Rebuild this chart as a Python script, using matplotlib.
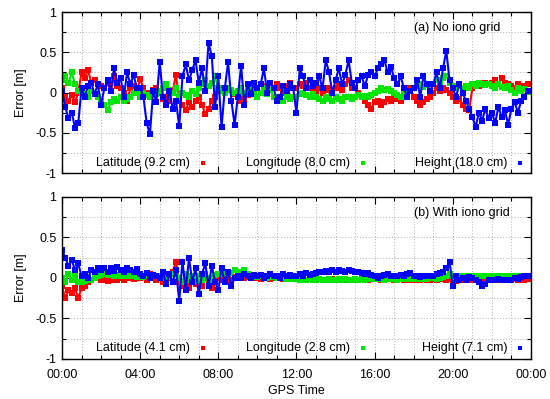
import numpy as np
import matplotlib
matplotlib.use("Agg")
import matplotlib.pyplot as plt
from matplotlib.ticker import MultipleLocator

plt.rcParams['font.family'] = ['Liberation Sans', 'DejaVu Sans']
plt.rcParams['font.size'] = 9

# sampling: every 10 minutes, hours 0..24
hours = np.arange(0, 24, 1 / 6)

# (a) No iono grid -- one row per hour, 6 samples each
lat_a = [
    0.05, -0.05, -0.10, -0.03, -0.12, 0.00,
    0.25, 0.18, 0.28, 0.12, 0.15, 0.10,
    0.08, 0.05, 0.12, 0.02, 0.20, 0.08,
    0.05, 0.00, -0.10, 0.05, 0.08, 0.02,
    0.17, 0.05, 0.00, -0.05, 0.03, 0.05,
    0.00, -0.08, -0.05, -0.10, 0.02, 0.22,
    -0.10, -0.15, -0.22, -0.12, -0.18, -0.10,
    -0.05, -0.15, -0.27, -0.20, -0.10, -0.05,
    0.02, 0.05, 0.00, 0.05, 0.03, -0.02,
    -0.05, -0.10, -0.08, -0.03, 0.00, 0.05,
    0.05, 0.10, 0.08, 0.05, 0.12, 0.06,
    0.10, 0.05, 0.00, 0.08, 0.12, 0.05,
    0.05, 0.10, 0.08, 0.12, 0.05, 0.08,
    0.02, 0.05, 0.00, 0.03, 0.06, 0.02,
    0.05, 0.08, 0.03, 0.10, 0.15, 0.05,
    0.05, 0.00, -0.05, -0.10, -0.15, -0.20,
    -0.12, -0.10, -0.15, -0.12, -0.08, -0.10,
    -0.05, -0.08, -0.10, -0.02, 0.02, 0.05,
    -0.05, -0.10, -0.15, -0.12, -0.08, -0.05,
    0.00, 0.05, 0.02, 0.05, 0.03, 0.00,
    -0.05, -0.10, -0.08, -0.15, -0.20, -0.22,
    0.05, 0.10, 0.08, 0.10, 0.12, 0.10,
    0.12, 0.15, 0.10, 0.18, 0.12, 0.10,
    0.08, 0.05, 0.10, 0.06, 0.08, 0.10,
]
lon_a = [
    0.15, 0.20, 0.12, 0.25, 0.10, 0.02,
    0.00, -0.03, -0.05, 0.02, -0.02, -0.05,
    -0.10, -0.15, -0.22, -0.12, -0.08, -0.10,
    -0.05, -0.10, -0.08, -0.05, 0.00, 0.03,
    -0.05, 0.00, -0.03, -0.05, 0.00, -0.02,
    0.02, 0.05, 0.10, 0.03, 0.00, 0.05,
    -0.05, 0.00, -0.03, -0.05, 0.02, -0.02,
    0.05, 0.10, 0.15, 0.08, 0.12, 0.20,
    0.05, 0.02, 0.00, 0.05, 0.03, 0.00,
    0.02, 0.05, 0.00, 0.03, 0.05, 0.02,
    -0.05, 0.00, 0.05, -0.02, 0.03, -0.05,
    -0.05, -0.08, -0.10, -0.05, -0.08, -0.06,
    -0.05, -0.02, 0.00, -0.03, -0.05, -0.02,
    -0.05, -0.08, -0.10, -0.06, -0.08, -0.10,
    -0.05, -0.08, -0.10, -0.06, -0.05, -0.08,
    -0.05, -0.03, -0.06, -0.04, -0.05, -0.03,
    0.00, 0.02, 0.05, 0.03, 0.04, 0.02,
    0.00, -0.03, -0.05, -0.02, 0.00, 0.02,
    0.05, 0.08, 0.10, 0.07, 0.09, 0.10,
    0.10, 0.15, 0.12, 0.18, 0.20, 0.12,
    0.08, 0.05, 0.10, 0.06, 0.08, 0.05,
    0.10, 0.08, 0.12, 0.10, 0.09, 0.11,
    0.08, 0.05, 0.10, 0.07, 0.06, 0.08,
    0.03, 0.00, 0.05, 0.02, 0.04, 0.01,
]
hgt_a = [
    0.02, -0.18, -0.32, -0.25, -0.44, -0.38,
    0.05, -0.05, 0.08, 0.12, -0.02, 0.10,
    -0.15, 0.05, 0.15, 0.02, 0.30, 0.12,
    0.18, -0.05, 0.25, 0.10, 0.22, 0.05,
    0.05, -0.05, -0.38, -0.52, 0.02, -0.12,
    0.38, -0.05, -0.15, 0.02, -0.20, -0.10,
    -0.42, 0.20, 0.35, 0.15, 0.28, 0.40,
    0.12, 0.30, 0.02, 0.62, 0.45, -0.18,
    0.20, -0.43, 0.05, 0.38, -0.10, -0.40,
    -0.05, 0.33, -0.15, 0.10, -0.02, 0.12,
    0.05, 0.10, 0.30, 0.00, 0.12, 0.05,
    -0.10, -0.05, 0.08, 0.02, 0.10, 0.05,
    -0.25, 0.30, 0.20, 0.05, 0.15, 0.08,
    0.12, 0.20, 0.05, 0.40, 0.25, 0.00,
    0.15, 0.30, 0.10, 0.22, 0.40, 0.12,
    0.05, 0.15, 0.20, 0.08, 0.22, 0.25,
    0.20, 0.30, 0.35, 0.40, 0.25, 0.32,
    0.18, 0.10, 0.20, 0.05, -0.05, 0.02,
    0.05, 0.15, -0.05, 0.20, 0.10, 0.02,
    0.10, 0.25, 0.05, 0.30, 0.52, 0.15,
    0.05, -0.05, 0.10, 0.00, -0.10, -0.20,
    -0.30, -0.43, -0.25, -0.35, -0.20, -0.32,
    -0.25, -0.38, -0.18, -0.30, -0.22, -0.40,
    -0.20, -0.12, -0.25, -0.10, -0.05, 0.02,
]

# (b) With iono grid
lat_b = [
    -0.10, -0.25, -0.15, -0.18, -0.12, -0.25,
    -0.12, -0.10, -0.05, -0.02, 0.02, 0.00,
    -0.03, -0.02, -0.04, -0.03, -0.02, -0.03,
    0.00, -0.02, 0.01, 0.00, -0.01, 0.02,
    0.00, 0.03, -0.02, 0.05, 0.02, -0.03,
    0.03, -0.05, 0.05, 0.00, 0.08, 0.20,
    -0.05, -0.10, 0.05, -0.12, -0.03, -0.08,
    -0.05, -0.10, 0.00, -0.06, -0.12, -0.02,
    0.00, -0.03, 0.02, 0.00, -0.02, 0.01,
    0.00, 0.02, 0.00, 0.01, 0.00, 0.02,
    0.00, -0.01, 0.01, 0.00, -0.01, 0.00,
    0.00, 0.01, -0.01, 0.00, 0.01, 0.00,
    0.00, -0.01, 0.01, -0.02, -0.01, 0.00,
    -0.02, -0.01, -0.02, -0.03, -0.02, -0.01,
    -0.02, -0.03, -0.01, -0.02, -0.03, -0.02,
    -0.01, -0.02, 0.00, -0.01, -0.02, -0.01,
    -0.01, 0.00, -0.02, -0.01, 0.00, -0.01,
    -0.02, -0.01, 0.00, -0.02, -0.01, -0.02,
    -0.02, -0.03, -0.02, -0.01, -0.02, -0.02,
    -0.01, -0.02, -0.01, 0.00, -0.02, -0.01,
    -0.10, -0.04, -0.02, -0.03, -0.02, -0.01,
    -0.02, -0.01, -0.02, -0.03, -0.02, -0.01,
    -0.02, -0.03, -0.02, -0.01, -0.02, -0.03,
    -0.02, -0.01, -0.02, -0.01, -0.02, -0.01,
]
lon_b = [
    0.00, -0.05, 0.05, -0.03, 0.02, -0.05,
    -0.05, -0.04, -0.02, -0.02, 0.00, 0.02,
    0.04, 0.05, 0.04, 0.05, 0.03, 0.04,
    0.03, 0.02, 0.03, 0.02, 0.02, 0.01,
    0.02, 0.01, 0.02, 0.03, 0.02, 0.02,
    0.02, 0.00, 0.03, 0.01, 0.05, 0.10,
    0.00, -0.05, 0.05, -0.02, 0.03, -0.04,
    0.02, -0.03, 0.05, 0.00, -0.02, 0.04,
    0.05, 0.06, 0.05, 0.08, 0.06, 0.10,
    0.08, 0.06, 0.10, 0.05, 0.03, 0.02,
    0.01, 0.02, 0.01, 0.00, 0.01, 0.01,
    0.00, 0.01, 0.00, -0.01, 0.00, -0.01,
    -0.01, -0.02, -0.01, -0.02, -0.01, -0.02,
    -0.02, -0.01, -0.02, -0.02, -0.01, -0.02,
    -0.02, -0.01, -0.02, -0.01, -0.02, -0.02,
    -0.01, -0.02, -0.01, -0.02, -0.01, -0.01,
    -0.01, 0.00, -0.01, -0.02, -0.01, 0.00,
    -0.01, -0.02, -0.01, -0.01, 0.00, -0.01,
    -0.01, 0.00, -0.01, 0.00, -0.01, 0.00,
    0.00, -0.01, 0.00, 0.01, 0.02, 0.05,
    0.02, 0.01, 0.02, 0.02, 0.01, 0.02,
    0.02, 0.02, 0.01, 0.02, 0.02, 0.02,
    0.02, 0.01, 0.02, 0.02, 0.01, 0.02,
    0.02, 0.02, 0.01, 0.02, 0.02, 0.02,
]
hgt_b = [
    0.35, 0.25, 0.15, 0.22, 0.10, 0.18,
    0.02, 0.05, 0.00, 0.10, 0.08, 0.12,
    0.10, 0.12, 0.08, 0.12, 0.09, 0.13,
    0.10, 0.08, 0.12, 0.10, 0.07, 0.11,
    0.05, 0.02, 0.06, 0.00, 0.04, 0.02,
    0.00, 0.08, -0.08, 0.05, -0.05, 0.10,
    -0.28, 0.20, -0.15, 0.25, -0.05, 0.12,
    -0.20, 0.05, 0.18, -0.10, 0.15, -0.05,
    -0.15, 0.12, -0.05, 0.08, -0.10, 0.00,
    0.02, 0.00, 0.05, 0.03, 0.00, 0.04,
    0.02, 0.04, 0.00, 0.03, 0.05, 0.02,
    0.03, 0.00, 0.05, 0.02, 0.04, 0.03,
    0.02, 0.05, 0.03, 0.06, 0.04, 0.05,
    0.06, 0.08, 0.07, 0.09, 0.08, 0.10,
    0.08, 0.10, 0.09, 0.08, 0.10, 0.09,
    0.08, 0.07, 0.06, 0.05, 0.06, 0.04,
    0.03, 0.00, 0.02, 0.04, 0.05, 0.03,
    0.02, 0.03, 0.04, 0.03, 0.05, 0.06,
    0.03, 0.02, 0.01, 0.02, 0.03, 0.02,
    0.03, 0.05, 0.06, 0.08, 0.12, 0.20,
    -0.10, 0.02, -0.03, 0.00, -0.02, 0.01,
    0.00, -0.02, -0.05, -0.10, -0.08, -0.02,
    -0.02, -0.03, -0.01, -0.02, -0.03, -0.02,
    -0.02, 0.00, -0.01, 0.01, 0.02, 0.02,
]

labels_a = ['Latitude (9.2 cm)', 'Longitude (8.0 cm)', 'Height (18.0 cm)']
labels_b = ['Latitude (4.1 cm)', 'Longitude (2.8 cm)', 'Height (7.1 cm)']
colors = ['#ff0000', '#00e600', '#0000ff']
xtick_labels = ['00:00', '04:00', '08:00', '12:00', '16:00', '20:00', '00:00']

fig = plt.figure(figsize=(5.5, 3.99), dpi=100)
ax1 = fig.add_axes([0.1127, 0.5664, 0.8527, 0.4035])
ax2 = fig.add_axes([0.1127, 0.1003, 0.8527, 0.4060])


def draw_panel(ax, series, labels, title, show_xlabels):
    # dense gnuplot points: jagged trace plus square points
    for vals, c in zip(series, colors):
        ax.plot(hours, vals, '-s', color=c, linewidth=1.5, markersize=3.8,
                markeredgewidth=0)
    ax.set_xlim(0, 24)
    ax.set_ylim(-1, 1)
    ax.xaxis.set_minor_locator(MultipleLocator(1))
    ax.yaxis.set_minor_locator(MultipleLocator(0.25))
    ax.set_yticks([-1, -0.5, 0, 0.5, 1])
    ax.set_yticklabels(['-1', '-0.5', '0', '0.5', '1'])
    ax.set_xticks([0, 4, 8, 12, 16, 20, 24])
    if show_xlabels:
        ax.set_xticklabels(xtick_labels)
    else:
        ax.set_xticklabels([])
    ax.tick_params(which='both', direction='in', top=True, right=True, width=0.8)
    ax.tick_params(which='major', length=5, labelsize=9)
    ax.tick_params(axis='x', which='major', pad=7)
    ax.tick_params(axis='y', which='major', pad=4)
    ax.tick_params(which='minor', length=3)
    ax.grid(which='both', color='#b0b0b0', linestyle=(0, (1, 2)), linewidth=0.7)
    ax.set_axisbelow(True)
    for s in ax.spines.values():
        s.set_linewidth(1.0)
    ax.set_ylabel('Error [m]', fontsize=9, labelpad=6)
    ax.text(0.7505, 0.90, title, transform=ax.transAxes, ha='left', va='center', fontsize=9)
    # gnuplot-style key: text right-aligned, sample to its right
    key_x = [0.3006, 0.6418, 0.9765]
    for lab, c, kx in zip(labels, colors, key_x):
        ax.text(kx - 0.027, 0.065, lab, transform=ax.transAxes, ha='right', va='center', fontsize=9)
        ax.plot([kx], [0.065], 's', color=c, markersize=3.0, markeredgewidth=0,
                transform=ax.transAxes, clip_on=False)


draw_panel(ax1, [lat_a, lon_a, hgt_a], labels_a, '(a) No iono grid', False)
draw_panel(ax2, [lat_b, lon_b, hgt_b], labels_b, '(b) With iono grid', True)
ax2.set_xlabel('GPS Time', fontsize=9, labelpad=3)

fig.savefig('out.png', dpi=100)
